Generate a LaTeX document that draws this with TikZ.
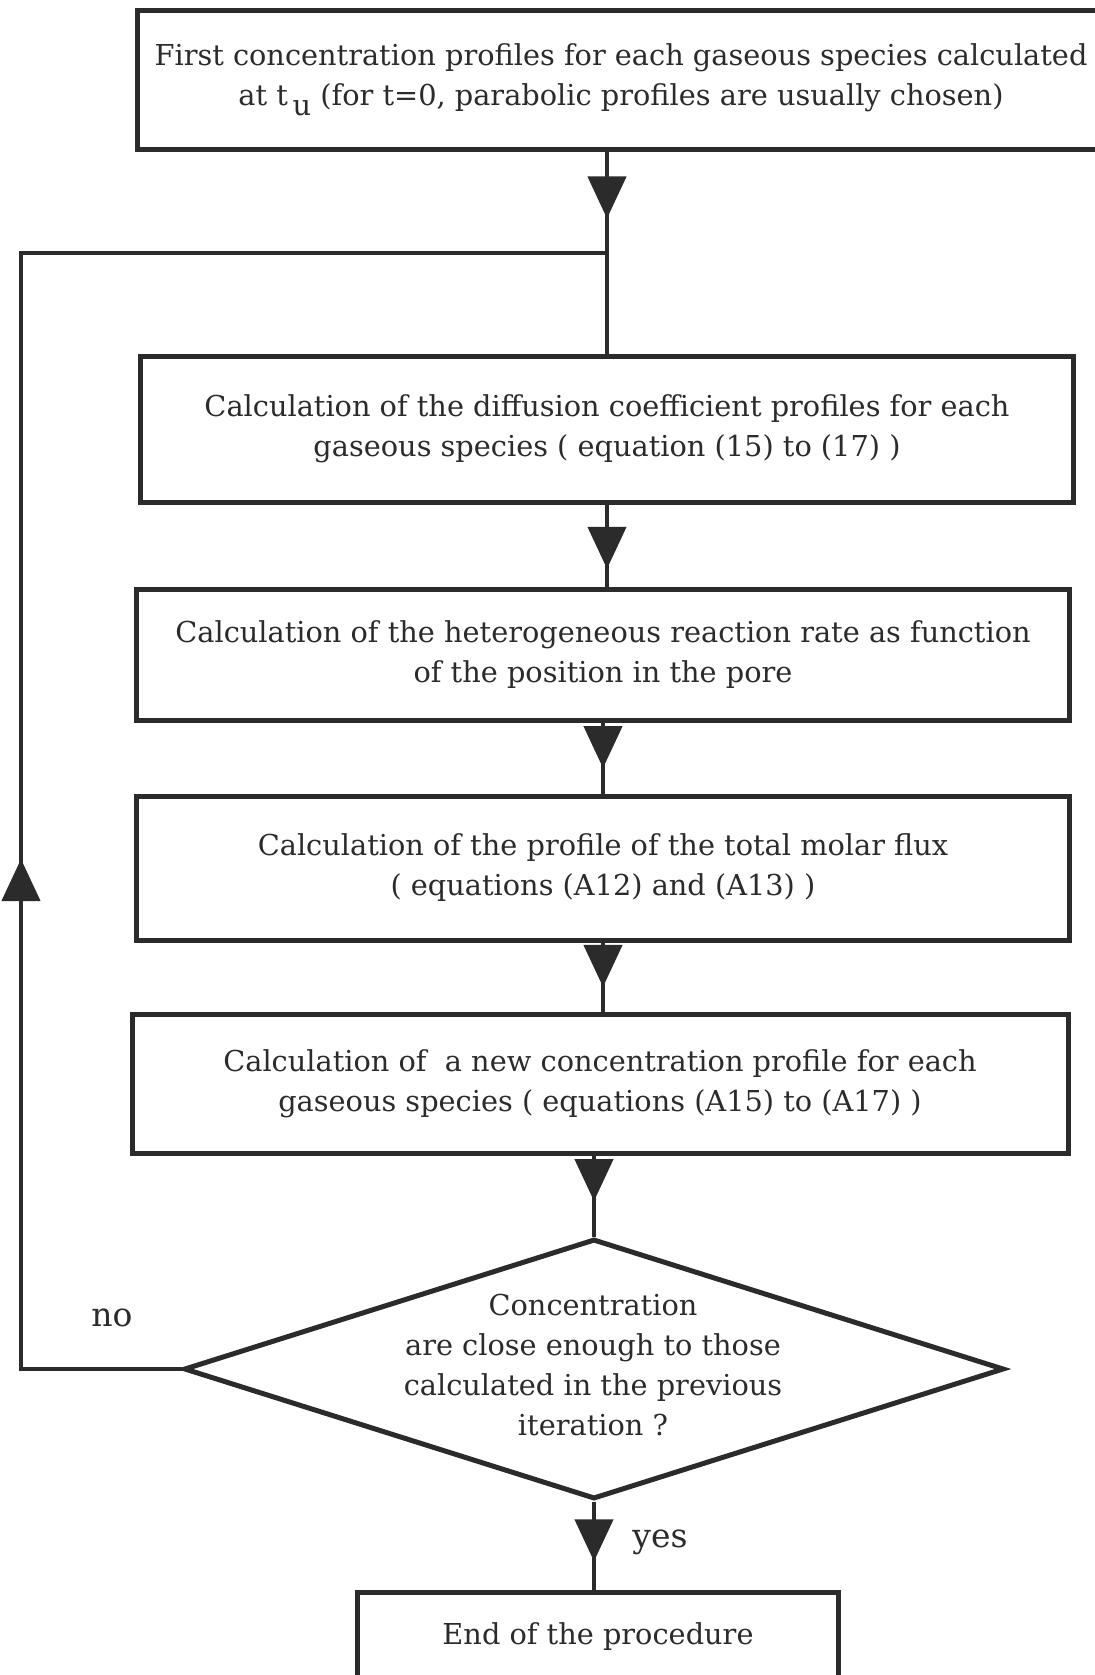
\documentclass[tikz,border=0pt]{standalone}
\usepackage{fontspec}
\setmainfont{DejaVu Serif}
\usepackage{tikz}
\usetikzlibrary{arrows.meta,shapes.geometric,decorations.markings}
\definecolor{ink}{HTML}{2B2B2B}
\tikzset{
  stepbox/.style={draw=ink,line width=2.5pt,align=center,inner sep=0pt,text=ink,
    font=\fontsize{14.4}{20}\selectfont},
  decision/.style={diamond,draw=ink,line width=2.5pt,inner sep=0pt,
    minimum width=410pt,minimum height=130pt},
  plain/.style={align=center,text=ink,font=\fontsize{14.4}{20}\selectfont},
  tag/.style={text=ink,font=\fontsize{16.5}{20}\selectfont},
  flow/.style={draw=ink,line width=2.2pt},
  midarrow/.style={postaction={decorate,decoration={markings,
    mark=at position #1 with {\arrow[ink]{Triangle[width=19pt,length=21pt]}}}}}
}

\begin{document}
\begin{tikzpicture}[x=0.5pt,y=-0.5pt]
    \clip (0,0) rectangle (1095,1675);
    \node[stepbox,minimum width=484pt,minimum height=69.5pt] (first) at (621,80)
      {First concentration profiles for each gaseous species calculated\\
       at t\,\raisebox{-0.7ex}{u} (for t=0, parabolic profiles are usually chosen)};
    \node[stepbox,minimum width=466.5pt,minimum height=73pt] (diff) at (607,429)
      {Calculation of the diffusion coefficient profiles for each\\
       gaseous species ( equation (15) to (17) )};
    \node[stepbox,minimum width=466.5pt,minimum height=65.5pt] (rate) at (603,655)
      {Calculation of the heterogeneous reaction rate as function\\
       of the position in the pore};
    \node[stepbox,minimum width=466.5pt,minimum height=72pt] (flux) at (603,868)
      {Calculation of the profile of the total molar flux\\
       ( equations (A12) and (A13) )};
    \node[stepbox,minimum width=468pt,minimum height=69.5pt] (conc) at (600,1084)
      {Calculation of\ \ a new concentration profile for each\\
       gaseous species ( equations (A15) to (A17) )};
    \node[decision] (test) at (594,1369) {};
    \node[plain] (testtext) at (593,1365)
      {Concentration\\ are close enough to those\\ calculated in the previous\\ iteration ?};
    \node[stepbox,minimum width=240.5pt,minimum height=45pt] (fin) at (598,1637)
      {End of the procedure};
    \node[tag] (no) at (112,1318) {no};
    \node[tag] (yes) at (660,1542) {yes};
    \coordinate (back) at (21,253);
    % main chain
    \draw[flow,midarrow=0.33] (first.south -| diff.north) -- (diff.north);
    \draw[flow,midarrow=0.78] (diff.south) -- (diff.south |- rate.north);
    \draw[flow,midarrow=0.64] (rate.south) -- (rate.south |- flux.north);
    \draw[flow,midarrow=0.64] (flux.south) -- (flux.south |- conc.north);
    \draw[flow,midarrow=0.56] (test.north |- conc.south) -- (test.north);
    \draw[flow,midarrow=0.68] (test.south) -- (test.south |- fin.north);
    % loop back
    \draw[flow,midarrow=0.36] (test.west) -| (back) -- (back -| diff.north);
  \end{tikzpicture}
\end{document}
